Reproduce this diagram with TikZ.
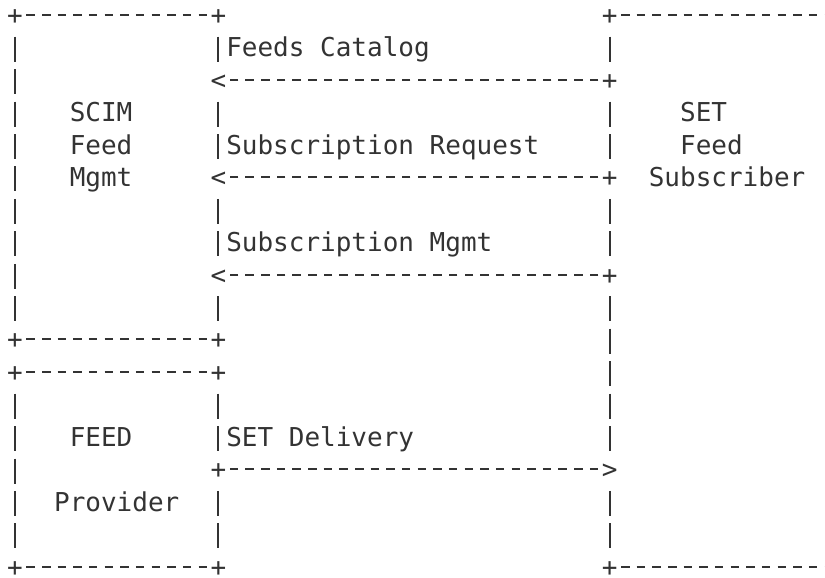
\documentclass[tikz,border=0pt]{standalone}
\usepackage{fontspec}
\setmonofont{DejaVu Sans Mono}
\usetikzlibrary{positioning}
\definecolor{ink}{HTML}{333333}
\tikzset{
	ascii/.style={x=15.65pt,y=-32.45pt,line width=2pt,color=ink,
		font=\ttfamily\fontsize{26}{32}\selectfont,node distance=0pt},
	glyph/.style={inner sep=0pt,outer sep=0pt,minimum width=15.65pt,
		text height=19pt,text depth=0pt},
	word/.style={inner sep=0pt,outer sep=0pt,minimum height=32.45pt,
		text height=25pt,text depth=6pt,anchor=west},
	hrule/.style={dash pattern=on 8.5pt off 7.15pt,dash phase=12.075pt},
	vrule/.style={dash pattern=on 25pt off 7.45pt,dash phase=27pt,
		shorten <=6.725pt,shorten >=6.725pt}
}

\begin{document}
\begin{tikzpicture}[ascii]
\useasboundingbox (-0.958,-0.462) rectangle (51.76,17.32);
\clip (-0.958,-0.462) rectangle (51.76,17.32);

% box corners
\node[glyph] (mnw) at (0,0) {+};
\node[glyph] (mne) at (13,0) {+};
\node[glyph] (msw) at (0,10) {+};
\node[glyph] (mse) at (13,10) {+};
\node[glyph] (pnw) at (0,11) {+};
\node[glyph] (pne) at (13,11) {+};
\node[glyph] (psw) at (0,17) {+};
\node[glyph] (pse) at (13,17) {+};
\node[glyph] (snw) at (38,0) {+};
\node[glyph] (ssw) at (38,17) {+};
\coordinate (sne) at (52,0);
\coordinate (sse) at (52,17);

% flow ends
\node[glyph] (cath) at (13,2) {<};
\node[glyph] (catt) at (38,2) {+};
\node[glyph] (reqh) at (13,5) {<};
\node[glyph] (reqt) at (38,5) {+};
\node[glyph] (mgth) at (13,8) {<};
\node[glyph] (mgtt) at (38,8) {+};
\node[glyph] (delt) at (13,14) {+};
\node[glyph] (delh) at (38,14) {>};

\node[word] (scim) at (3.5,3) {SCIM};
\node[word] (feed) [below=of scim] {Feed};
\node[word] (mgmt) [below=of feed] {Mgmt};
\node[word] (prov) at (3.5,13) {FEED};
\node[word] (provider) at (2.5,15) {Provider};
\node[word] (set) at (42.5,3) {SET};
\node[word] (setfeed) at (42.5,4) {Feed};
\node[word] (subscr) at (40.5,5) {Subscriber};

\node[word] (lcat) at (13.5,1) {Feeds Catalog};
\node[word] (lreq) at (13.5,4) {Subscription Request};
\node[word] (lmgt) at (13.5,7) {Subscription Mgmt};
\node[word] (ldel) at (13.5,13) {SET Delivery};

\draw[hrule] (mnw) -- (mne) (msw) -- (mse) (pnw) -- (pne) (psw) -- (pse)
	(snw) -- (sne) (ssw) -- (sse);

\path (mnw) edge[vrule] (msw)
	(mne) edge[vrule] (cath) (cath) edge[vrule] (reqh)
	(reqh) edge[vrule] (mgth) (mgth) edge[vrule] (mse)
	(pnw) edge[vrule] (psw)
	(pne) edge[vrule] (delt) (delt) edge[vrule] (pse)
	(snw) edge[vrule] (catt) (catt) edge[vrule] (reqt)
	(reqt) edge[vrule] (mgtt) (mgtt) edge[vrule] (delh)
	(delh) edge[vrule] (ssw);

\path (catt) edge[hrule] (cath);
\path (reqt) edge[hrule] (reqh);
\path (mgtt) edge[hrule] (mgth);
\path (delt) edge[hrule] (delh);
\end{tikzpicture}
\end{document}
